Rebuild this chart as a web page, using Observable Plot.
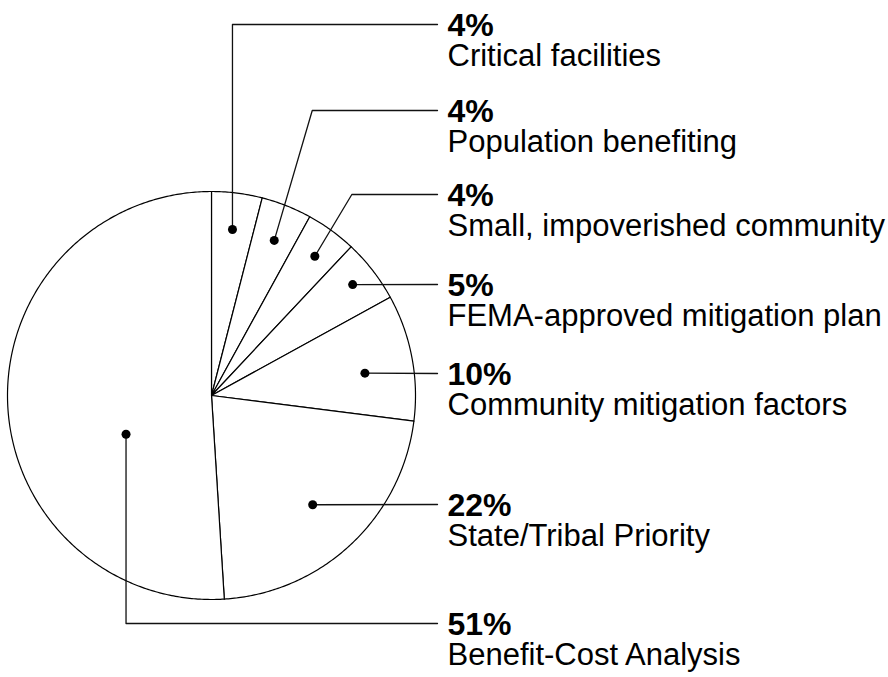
<!DOCTYPE html>
<html>
<head>
<meta charset="utf-8">
<script src="https://cdn.jsdelivr.net/npm/d3@7"></script>
<script src="https://cdn.jsdelivr.net/npm/@observablehq/plot@0.6"></script>
<style>
  html, body { margin: 0; padding: 0; background: #fff; }
  #chart svg { display: block; }
</style>
</head>
<body>
<div id="chart"></div>
<script>
// ---- Data ----
const categories = [
  "Critical facilities",
  "Population benefiting",
  "Small, impoverished community",
  "FEMA-approved mitigation plan",
  "Community mitigation factors",
  "State/Tribal Priority",
  "Benefit-Cost Analysis"
];
const shares = [4, 4, 4, 5, 10, 22, 51];
const shareLabels = ["4%", "4%", "4%", "5%", "10%", "22%", "51%"];

// ---- Layout (positions of labels/dots, not data) ----
const W = 888, H = 677;
const cx = 211, cy = 395, R = 204;
const dotRadiusFrac = [0.82, 0.82, 0.85, 0.88, 0.76, 0.73, 0.46];
const dotAngleFrac  = [0.50, 0.53, 0.54, 0.48, 0.57, 0.505, 0.377];
const labelY = [24, 110, 194, 284, 373, 504, 623];
const elbowDx = [0, 38, 37, null, null, null, 0];
const lineEndX = 437, textX = 447;

const pie = d3.pie().sort(null).value(d => d)(shares);
const pt = (a, r) => [cx + r * Math.sin(a), cy - r * Math.cos(a)];

// slice outlines
const slicePts = [];
pie.forEach((p, i) => {
  slicePts.push({ i, x: cx, y: cy });
  const n = Math.max(4, Math.ceil((p.endAngle - p.startAngle) / 0.01));
  for (let k = 0; k <= n; k++) {
    const a = p.startAngle + (p.endAngle - p.startAngle) * k / n;
    const [x, y] = pt(a, R);
    slicePts.push({ i, x, y });
  }
  slicePts.push({ i, x: cx, y: cy });
});

// dots + leaders
const dots = pie.map((p, i) => {
  const a = p.startAngle + (p.endAngle - p.startAngle) * dotAngleFrac[i];
  const [x, y] = pt(a, R * dotRadiusFrac[i]);
  return { i, x, y };
});
const leaders = [];
dots.forEach((d, i) => {
  leaders.push({ i, x: d.x, y: d.y });
  if (elbowDx[i] !== null) leaders.push({ i, x: d.x + elbowDx[i], y: labelY[i] });
  leaders.push({ i, x: lineEndX, y: labelY[i] });
});

const labels = categories.map((c, i) => ({ c, pct: shareLabels[i], y: labelY[i] }));

const font = "'Liberation Sans', Arial, Helvetica, sans-serif";

const chart = Plot.plot({
  width: W,
  height: H,
  margin: 0,
  x: { domain: [0, W], range: [0, W], axis: null },
  y: { domain: [0, H], range: [0, H], axis: null },
  style: { fontFamily: font, background: "#fff" },
  marks: [
    Plot.line(slicePts, { x: "x", y: "y", z: "i", stroke: "#000", strokeWidth: 1.2, fill: "white", curve: "linear" }),
    Plot.line(leaders, { x: "x", y: "y", z: "i", stroke: "#111", strokeWidth: 1.3, curve: "linear" }),
    Plot.dot(dots, { x: "x", y: "y", r: 4.5, fill: "#000", stroke: "none" }),
    Plot.text(labels, { x: () => textX, y: d => d.y + 11, text: "pct", textAnchor: "start", lineAnchor: "bottom", fontSize: 32, fontWeight: "bold", fill: "#000" }),
    Plot.text(labels, { x: () => textX, y: d => d.y + 41, text: "c", textAnchor: "start", lineAnchor: "bottom", fontSize: 31, fill: "#000" })
  ]
});
document.getElementById("chart").appendChild(chart);
</script>
</body>
</html>
